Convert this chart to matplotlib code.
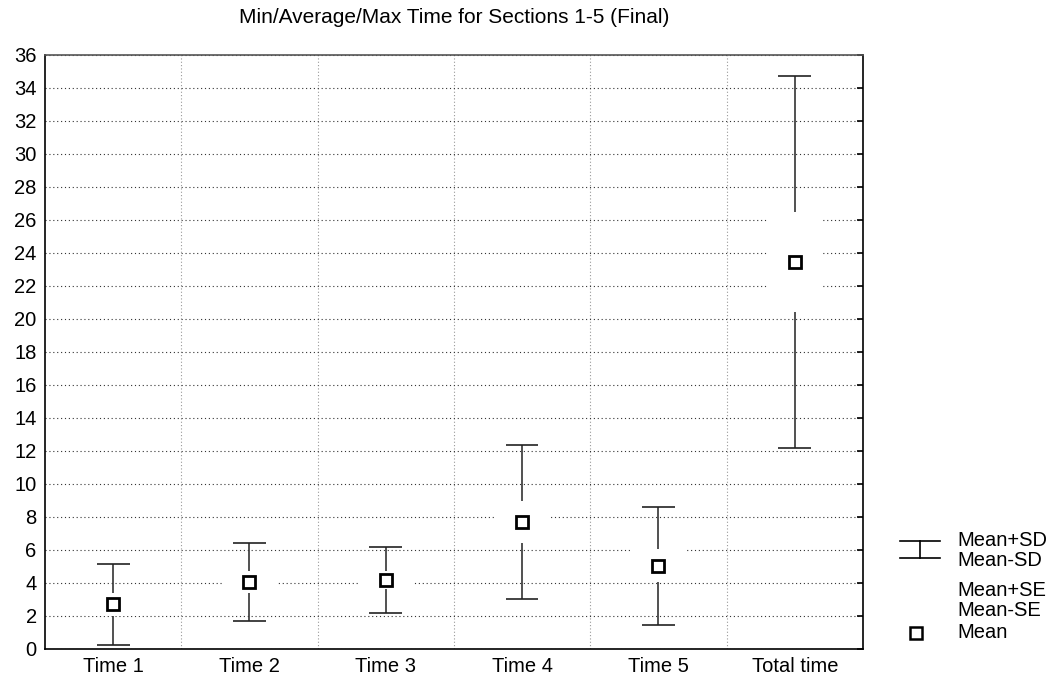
import numpy as np
import matplotlib.pyplot as plt
from matplotlib.lines import Line2D

plt.rcParams['font.family'] = ['Liberation Sans', 'DejaVu Sans']

# summary stats per section
labels = ['Time 1', 'Time 2', 'Time 3', 'Time 4', 'Time 5', 'Total time']
means = np.array([2.70, 4.05, 4.19, 7.71, 5.04, 23.45])
sds = np.array([2.46, 2.38, 2.00, 4.66, 3.56, 11.28])
ses = np.array([0.68, 0.67, 0.56, 1.28, 1.00, 3.05])

fig = plt.figure(figsize=(10.56, 6.82), dpi=100)
ax = fig.add_axes([0.0426, 0.0484, 0.7746, 0.871])

x = np.arange(len(labels))

# whiskers: mean +/- SD with caps
ax.vlines(x, means - sds, means + sds, color='#333333', lw=1.2, zorder=3)
ax.hlines(means + sds, x - 0.12, x + 0.12, color='#222222', lw=1.2, zorder=3)
ax.hlines(means - sds, x - 0.12, x + 0.12, color='#222222', lw=1.2, zorder=3)

# SE box, white, hides whisker and grid
ax.bar(x, 2 * ses, bottom=means - ses, width=0.40, color='white',
       edgecolor='none', zorder=4)

# mean
ax.plot(x, means, ls='none', marker='s', ms=9, mfc='white', mec='black',
        mew=2, zorder=5)

ax.set_xlim(-0.5, len(labels) - 0.5)
ax.set_ylim(0, 36)
ax.set_yticks(np.arange(0, 37, 2))
ax.set_xticks(x)
ax.set_xticklabels(labels)
ax.set_xticks(np.arange(0.5, len(labels) - 1, 1), minor=True)
ax.tick_params(axis='both', labelsize=14.5, length=0, pad=6)
ax.tick_params(axis='x', which='minor', length=0)
ax.tick_params(axis='y', left=False, right=True, direction='in', length=4, width=1.2)

ax.grid(axis='y', which='major', color='#333333', ls=(0, (1, 2.5)), lw=0.8)
ax.grid(axis='x', which='minor', color='#999999', ls=(0, (1, 2)), lw=0.8)
ax.set_axisbelow(True)

for s in ax.spines.values():
    s.set_linewidth(1.2)
ax.spines['top'].set_color('#555555')

ax.set_title('Min/Average/Max Time for Sections 1-5 (Final)', fontsize=15, pad=23)

# legend drawn in figure pixels
def fx(px):
    return px / 1056

def fy(py):
    return 1 - py / 682

fig.add_artist(Line2D([fx(900), fx(940)], [fy(541), fy(541)], color='black', lw=1.2))
fig.add_artist(Line2D([fx(900), fx(940)], [fy(558), fy(558)], color='black', lw=1.2))
fig.add_artist(Line2D([fx(920), fx(920)], [fy(541), fy(558)], color='black', lw=1.2))
fig.add_artist(Line2D([fx(916)], [fy(633)], marker='s', ms=8, mfc='white',
                      mec='black', mew=1.8, ls='none'))

leg_items = [('Mean+SD', 541), ('Mean-SD', 561), ('Mean+SE', 590),
             ('Mean-SE', 610), ('Mean', 633)]
for txt, py in leg_items:
    fig.text(fx(957), fy(py), txt, fontsize=14.5, va='center', ha='left')

fig.savefig('out.png', dpi=100)
